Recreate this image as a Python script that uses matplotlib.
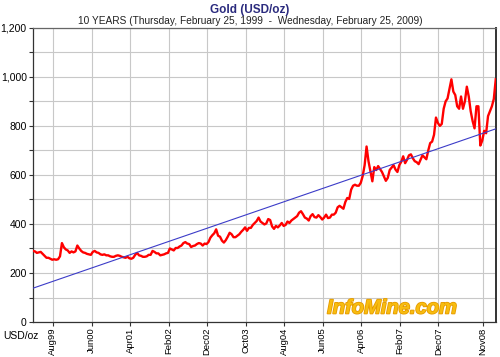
import matplotlib
matplotlib.use('Agg')
import matplotlib.pyplot as plt
import matplotlib.patheffects as pe
from matplotlib.ticker import MultipleLocator, FuncFormatter
import pandas as pd

plt.rcParams['font.family'] = ['Liberation Sans', 'DejaVu Sans']

# gold price, USD/oz, roughly every half month from Feb 25 1999 to Feb 25 2009
y1999 = [290, 288, 282, 284, 286, 278, 270, 262, 262, 258, 254, 256,
         254, 256, 268, 322, 305, 296, 292, 282, 288, 284, 288, 312]
y2000 = [300, 290, 284, 282, 278, 276, 274, 286, 290, 284, 282, 276,
         274, 276, 272, 272, 268, 266, 266, 270, 272, 270, 266, 264]
y2001 = [262, 266, 260, 258, 262, 274, 282, 272, 270, 266, 266, 268,
         274, 274, 290, 286, 280, 280, 272, 274, 276, 280, 282, 300]
y2002 = [296, 292, 302, 302, 308, 312, 322, 326, 320, 318, 306, 310,
         312, 318, 322, 320, 312, 320, 318, 326, 344, 354, 362, 378]
y2003 = [352, 348, 332, 324, 334, 348, 364, 358, 346, 346, 352, 358,
         368, 376, 386, 372, 384, 384, 396, 404, 412, 426, 410, 404]
y2004 = [398, 402, 420, 416, 390, 380, 392, 386, 394, 404, 392, 396,
         410, 404, 414, 420, 426, 432, 446, 452, 440, 426, 422, 414]
y2005 = [432, 440, 428, 426, 436, 428, 418, 426, 438, 424, 426, 438,
         438, 446, 468, 474, 468, 462, 490, 506, 502, 540, 556, 560]
y2006 = [556, 556, 568, 596, 640, 716, 656, 614, 574, 632, 620, 636,
         624, 612, 594, 576, 588, 620, 630, 640, 622, 612, 640, 654]
y2007 = [676, 648, 662, 680, 684, 668, 656, 652, 644, 662, 680, 672,
         664, 700, 730, 736, 764, 834, 812, 800, 808, 870, 900, 912]
y2008 = [950, 990, 940, 926, 880, 870, 920, 870, 900, 960, 920, 860,
         820, 790, 880, 880, 720, 740, 780, 770, 840, 860, 880, 910, 990]

gold = y1999 + y2000 + y2001 + y2002 + y2003 + y2004 + y2005 + y2006 + y2007 + y2008
dates = pd.date_range('1999-02-25', '2009-02-25', periods=len(gold))

# linear trend line end values
trend_dates = pd.to_datetime(['1999-02-25', '2009-02-25'])
trend_vals = [138, 788]

tick_dates = pd.to_datetime(['1999-08-01', '2000-06-01', '2001-04-01', '2002-02-01',
                             '2002-12-01', '2003-10-01', '2004-08-01', '2005-06-01',
                             '2006-04-01', '2007-02-01', '2007-12-01', '2008-11-15'])
tick_labels = ['Aug99', 'Jun00', 'Apr01', 'Feb02', 'Dec02', 'Oct03',
               'Aug04', 'Jun05', 'Apr06', 'Feb07', 'Dec07', 'Nov08']

fig = plt.figure(figsize=(5, 3.57), dpi=100)
ax = fig.add_axes([0.066, 0.098, 0.926, 0.824])

ax.plot(dates, gold, color='#ff0000', lw=1.7, zorder=3)
ax.plot(trend_dates, trend_vals, color='#3c3cc8', lw=0.8, zorder=4)

ax.set_xlim(pd.Timestamp('1999-02-25'), pd.Timestamp('2009-02-27'))
ax.set_ylim(0, 1200)
ax.yaxis.set_major_locator(MultipleLocator(200))
ax.yaxis.set_minor_locator(MultipleLocator(100))
ax.yaxis.set_major_formatter(FuncFormatter(lambda v, p: f'{int(v):,}'))
ax.set_xticks(tick_dates)
ax.set_xticklabels(tick_labels, rotation=90)

ax.grid(True, which='both', axis='y', color='#c8c8c8', lw=0.8)
ax.grid(True, axis='x', color='#c8c8c8', lw=0.8)
ax.set_axisbelow(True)

ax.tick_params(axis='y', labelsize=7.5, length=3, width=0.8, color='#333333', pad=1.5)
ax.tick_params(axis='x', labelsize=6.8, length=3, width=0.8, color='#333333', pad=1)
ax.tick_params(axis='y', which='minor', length=3, width=0.8, color='#333333')
for s in ax.spines.values():
    s.set_color('#333333')
    s.set_linewidth(0.9)
ax.spines['right'].set_linewidth(1.4)
ax.spines['top'].set_color('#666666')

fig.text(0.5, 1 - 10 / 357, 'Gold (USD/oz)', ha='center', va='center',
         fontsize=8.5, fontweight='bold', color='#2b2b7e')
fig.text(0.5, 1 - 20.5 / 357,
         '10 YEARS (Thursday, February 25, 1999  -  Wednesday, February 25, 2009)',
         ha='center', va='center', fontsize=7.3, color='#222222')
fig.text(0.006, 1 - 336 / 357, 'USD/oz', ha='left', va='center', fontsize=7.5)

fig.text(0.784, 1 - 308 / 357, 'InfoMine.com', ha='center', va='center',
         fontsize=14.5, fontweight='bold', fontstyle='italic', color='#f8bd10',
         path_effects=[pe.withStroke(linewidth=1.2, foreground='#e59a00')], zorder=5)

fig.savefig('out.png', dpi=100, facecolor='white')
